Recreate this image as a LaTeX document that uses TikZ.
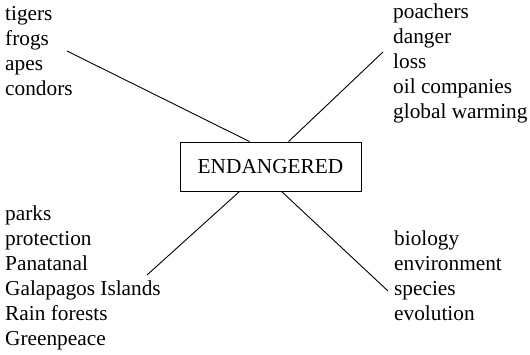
\documentclass[tikz,border=0pt]{standalone}
\usepackage{fontspec}
\setmainfont{Liberation Serif}
\begin{document}
\begin{tikzpicture}[x=1pt,y=-1pt,
  words/.style={anchor=north west,inner sep=0pt,align=left,font=\fontsize{21.3}{25}\selectfont},
  centerbox/.style={draw,line width=0.9pt,minimum width=181pt,minimum height=49pt,inner sep=0pt,font=\fontsize{21.3}{25}\selectfont},
  link/.style={line width=0.9pt}]
\useasboundingbox (0,0) rectangle (530,354);
\node[centerbox] (e) at (270.5,166.5) {ENDANGERED};
\node[words] (tl) at (5,6) {tigers\\frogs\\apes\\condors};
\node[words] (tr) at (393,4) {poachers\\danger\\loss\\oil companies\\global warming};
\node[words] (bl) at (5,206) {parks\\protection\\Panatanal\\Galapagos Islands\\Rain forests\\Greenpeace};
\node[words] (br) at (394,231) {biology\\environment\\species\\evolution};
\coordinate (tlend) at (67,51);
\coordinate (trend) at (383,52);
\coordinate (blend) at (147,275);
\coordinate (brend) at (388,291);
\draw[link] (tlend) -- ([xshift=70pt]e.north west);
\draw[link] (trend) -- ([xshift=109pt]e.north west);
\draw[link] (blend) -- ([xshift=60pt]e.south west);
\draw[link] (brend) -- ([xshift=102pt]e.south west);
\end{tikzpicture}
\end{document}
